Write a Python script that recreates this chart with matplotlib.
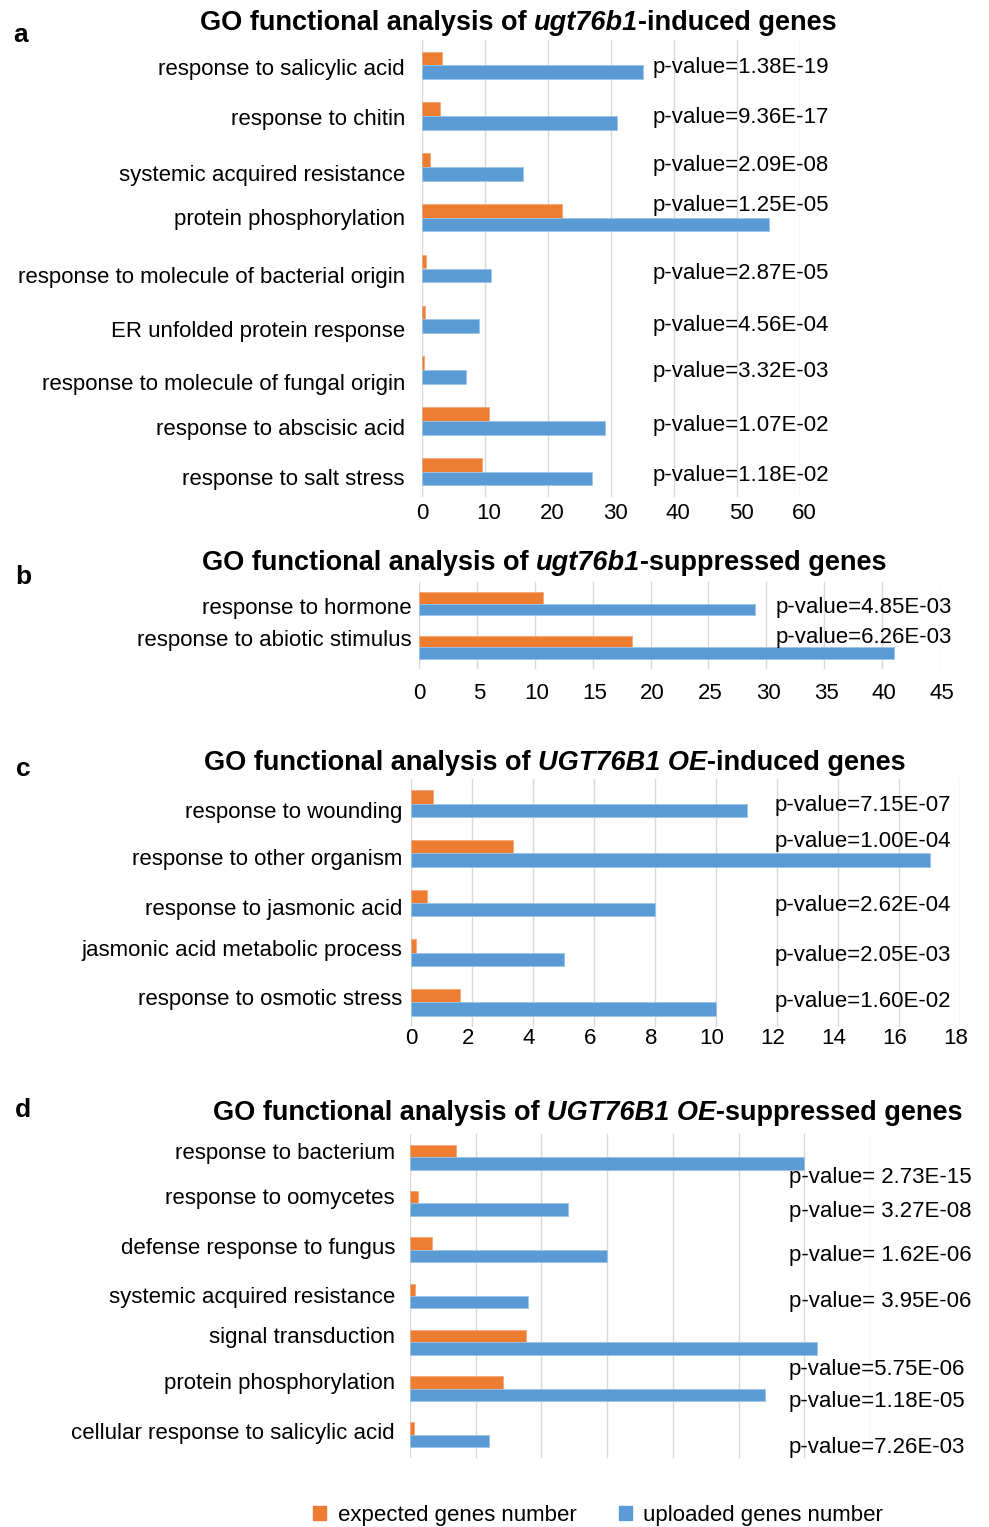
"""
GO functional analysis of ugt76b1 / UGT76B1 OE genes: expected vs uploaded
gene numbers per GO term, four stacked panels (a-d).
"""

import matplotlib
matplotlib.use('Agg')
import matplotlib.pyplot as plt
from matplotlib.patches import Patch
from matplotlib.transforms import ScaledTranslation

plt.rcParams['font.family'] = ['Liberation Sans', 'DejaVu Sans']

W, H = 989, 1527
ORANGE = '#ED7D31'
BLUE = '#5B9BD5'
GRID = '#D9D9D9'

# ── Data ─────────────────────────────────────────────────────────────────────

a_terms = ['response to salicylic acid', 'response to chitin',
           'systemic acquired resistance', 'protein phosphorylation',
           'response to molecule of bacterial origin', 'ER unfolded protein response',
           'response to molecule of fungal origin', 'response to abscisic acid',
           'response to salt stress']
a_expected = [3.2, 2.9, 1.3, 22.3, 0.7, 0.5, 0.3, 10.7, 9.6]
a_uploaded = [35, 31, 16, 55, 11, 9, 7, 29, 27]
a_pvalues = ['p-value=1.38E-19', 'p-value=9.36E-17', 'p-value=2.09E-08',
             'p-value=1.25E-05', 'p-value=2.87E-05', 'p-value=4.56E-04',
             'p-value=3.32E-03', 'p-value=1.07E-02', 'p-value=1.18E-02']

b_terms = ['response to hormone', 'response to abiotic stimulus']
b_expected = [10.7, 18.4]
b_uploaded = [29, 41]
b_pvalues = ['p-value=4.85E-03', 'p-value=6.26E-03']

c_terms = ['response to wounding', 'response to other organism',
           'response to jasmonic acid', 'jasmonic acid metabolic process',
           'response to osmotic stress']
c_expected = [0.72, 3.33, 0.54, 0.15, 1.6]
c_uploaded = [11, 17, 8, 5, 10]
c_pvalues = ['p-value=7.15E-07', 'p-value=1.00E-04', 'p-value=2.62E-04',
             'p-value=2.05E-03', 'p-value=1.60E-02']

d_terms = ['response to bacterium', 'response to oomycetes',
           'defense response to fungus', 'systemic acquired resistance',
           'signal transduction', 'protein phosphorylation',
           'cellular response to salicylic acid']
d_expected = [7.0, 1.2, 3.4, 0.8, 17.7, 14.1, 0.6]
d_uploaded = [60, 24, 30, 18, 62, 54, 12]
d_pvalues = ['p-value= 2.73E-15', 'p-value= 3.27E-08', 'p-value= 1.62E-06',
             'p-value= 3.95E-06', 'p-value=5.75E-06', 'p-value=1.18E-05',
             'p-value=7.26E-03']

# ── Layout (pixels of the 989x1527 image) ───────────────────────────────────

PANELS = [
    dict(letter='a', terms=a_terms, exp=a_expected, upl=a_uploaded, pv=a_pvalues,
         box=(422, 800, 40, 497), xmax=60, step=10, ticklabels=True, pad=4, ypad=17,
         tick_dx=4,
         title=('GO functional analysis of ', 'ugt76b1', '-induced genes'),
         title_xy=(518, 23), letter_xy=(21, 35),
         label_dy=[2, 1, 6, -1, 7, 10, 12, 6, 5],
         pv_x=653, pv_y=[68, 118, 166, 206, 274, 325, 371, 425, 475]),
    dict(letter='b', terms=b_terms, exp=b_expected, upl=b_uploaded, pv=b_pvalues,
         box=(419, 940, 582, 669), xmax=45, step=5, ticklabels=True, pad=10, ypad=7,
         tick_dx=2,
         title=('GO functional analysis of ', 'ugt76b1', '-suppressed genes'),
         title_xy=(544, 563), letter_xy=(23, 577),
         label_dy=[2, -9],
         pv_x=776, pv_y=[607, 637]),
    dict(letter='c', terms=c_terms, exp=c_expected, upl=c_uploaded, pv=c_pvalues,
         box=(411, 960, 779, 1027), xmax=18, step=2, ticklabels=True, pad=1, ypad=9,
         tick_dx=-4,
         title=('GO functional analysis of ', 'UGT76B1 OE', '-induced genes'),
         title_xy=(555, 763), letter_xy=(23, 769),
         label_dy=[6, 4, 4, -5, -5],
         pv_x=775, pv_y=[805, 841, 905, 956, 1001]),
    dict(letter='d', terms=d_terms, exp=d_expected, upl=d_uploaded, pv=d_pvalues,
         box=(410, 870, 1134, 1458), xmax=70, step=10, ticklabels=False, pad=2, ypad=15,
         tick_dx=0,
         title=('GO functional analysis of ', 'UGT76B1 OE', '-suppressed genes'),
         title_xy=(588, 1113), letter_xy=(23, 1110),
         label_dy=[-6, -7, -4, -1, -7, -8, -4],
         pv_x=789, pv_y=[1178, 1212, 1256, 1302, 1370, 1401, 1447]),
]

BAR_H = 0.27
LABEL_FS = 16
TICK_FS = 16
PV_FS = 16
TITLE_FS = 19.5


def fx(x):
    return x / W


def fy(y):
    return 1 - y / H


fig = plt.figure(figsize=(W / 100, H / 100), dpi=100)
renderer = fig.canvas.get_renderer()


def rich_title(xc, y, parts, size):
    """Bold title with the middle part in italics, centred at xc."""
    styles = ['normal', 'italic', 'normal']
    texts = [fig.text(0, fy(y), s, fontsize=size, fontweight='bold', style=st,
                      ha='left', va='center') for s, st in zip(parts, styles)]
    widths = [t.get_window_extent(renderer).width for t in texts]
    x = xc - sum(widths) / 2
    for t, w in zip(texts, widths):
        t.set_x(fx(x))
        x += w


for p in PANELS:
    left, right, top, bottom = p['box']
    ax = fig.add_axes([fx(left), fy(bottom), fx(right - left), (bottom - top) / H])
    n = len(p['terms'])
    pos = list(range(n))

    ax.barh([i - BAR_H / 2 for i in pos], p['exp'], height=BAR_H, color=ORANGE,
            edgecolor='#F4A77A', lw=0.6, zorder=3)
    ax.barh([i + BAR_H / 2 for i in pos], p['upl'], height=BAR_H, color=BLUE,
            edgecolor='#9DC3E6', lw=0.6, zorder=3)

    ax.set_xlim(0, p['xmax'])
    ax.set_ylim(n - 0.5, -0.5)
    ax.set_xticks(range(0, p['xmax'] + 1, p['step']))
    ax.grid(axis='x', color=GRID, lw=1.0, zorder=0)
    ax.set_axisbelow(True)
    for s in ax.spines.values():
        s.set_visible(False)
    ax.tick_params(axis='both', length=0, labelsize=TICK_FS)
    ax.tick_params(axis='x', labelbottom=p['ticklabels'], pad=p['pad'])
    for lab in ax.get_xticklabels()[1:]:
        lab.set_transform(lab.get_transform()
                          + ScaledTranslation(p['tick_dx'] / 100, 0, fig.dpi_scale_trans))

    ax.set_yticks(pos)
    ax.set_yticklabels(p['terms'], fontsize=LABEL_FS)
    ax.tick_params(axis='y', pad=p['ypad'] * 0.72)
    for lab, dy in zip(ax.get_yticklabels(), p['label_dy']):
        lab.set_transform(lab.get_transform() + ScaledTranslation(0, -dy / 100, fig.dpi_scale_trans))

    for txt, y in zip(p['pv'], p['pv_y']):
        fig.text(fx(p['pv_x']), fy(y), txt, fontsize=PV_FS, ha='left', va='center')

    rich_title(p['title_xy'][0], p['title_xy'][1], p['title'], TITLE_FS)
    fig.text(fx(p['letter_xy'][0]), fy(p['letter_xy'][1]), p['letter'],
             fontsize=19, fontweight='bold', ha='center', va='center')

handles = [Patch(color=ORANGE, label='expected genes number'),
           Patch(color=BLUE, label='uploaded genes number')]
fig.legend(handles=handles, loc='center', bbox_to_anchor=(fx(598), fy(1515)),
           ncol=2, frameon=False, fontsize=16, handlelength=0.6, handleheight=0.6,
           handletextpad=0.5, columnspacing=1.9)

fig.savefig('out.png', dpi=100, facecolor='white')
print('Saved out.png')
